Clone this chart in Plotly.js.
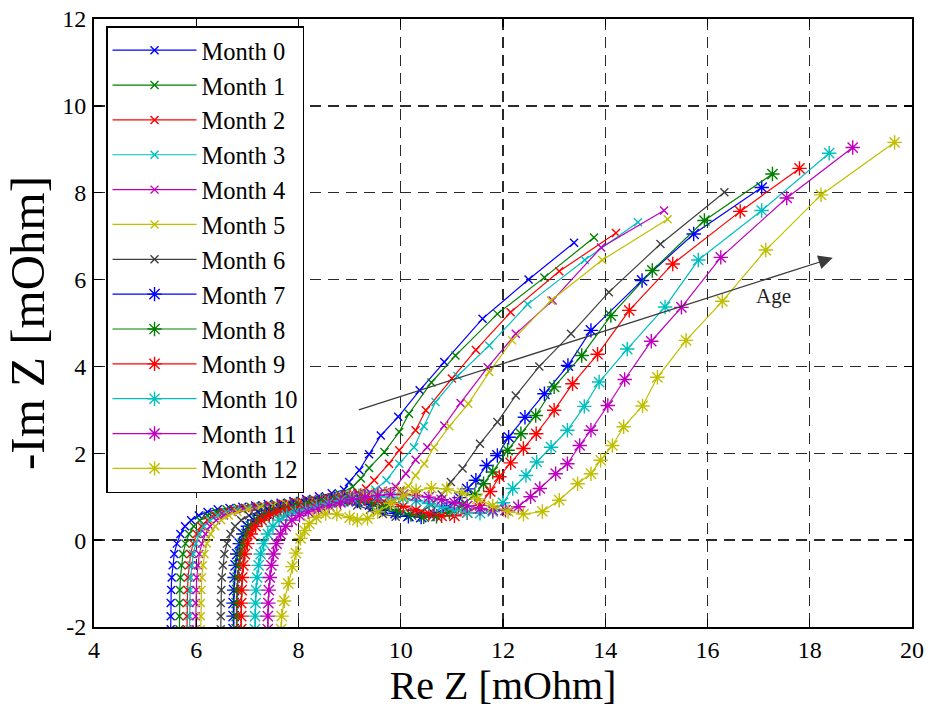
<!DOCTYPE html>
<html>
<head>
<meta charset="utf-8">
<script src="https://cdn.plot.ly/plotly-3.0.1.min.js"></script>
<style>html,body{margin:0;padding:0;background:#fff;}#chart{width:932px;height:711px;}</style>
</head>
<body>
<div id="chart"></div>
<script>
const monthNames = ['Month 0','Month 1','Month 2','Month 3','Month 4','Month 5','Month 6','Month 7','Month 8','Month 9','Month 10','Month 11','Month 12'];

const m0x = [5.50,5.50,5.50,5.51,5.52,5.54,5.57,5.62,5.69,5.78,5.90,6.05,6.22,6.42,6.65,6.90,7.15,7.40,7.65,7.90,8.15,8.40,8.65,8.89,8.99,9.19,9.38,9.61,9.95,10.37,10.85,11.60,12.50,13.39];
const m0y = [-2.05,-1.75,-1.45,-1.15,-0.86,-0.58,-0.32,-0.08,0.14,0.32,0.46,0.57,0.65,0.71,0.74,0.77,0.80,0.83,0.86,0.90,0.95,1.01,1.08,1.16,1.34,1.61,1.98,2.41,2.84,3.45,4.10,5.10,6.00,6.85];

const m1x = [5.67,5.67,5.67,5.68,5.69,5.71,5.74,5.79,5.86,5.95,6.07,6.22,6.39,6.59,6.82,7.06,7.30,7.55,7.80,8.05,8.30,8.55,8.80,9.06,9.22,9.38,9.68,9.97,10.16,10.60,11.07,11.89,12.81,13.78];
const m1y = [-2.05,-1.75,-1.45,-1.15,-0.86,-0.58,-0.32,-0.08,0.14,0.32,0.46,0.57,0.65,0.71,0.74,0.77,0.80,0.83,0.86,0.90,0.94,0.99,1.06,1.23,1.42,1.66,2.03,2.49,2.91,3.63,4.25,5.21,6.05,6.97];

const m2x = [5.82,5.82,5.82,5.83,5.84,5.86,5.89,5.94,6.01,6.10,6.22,6.37,6.54,6.74,6.96,7.20,7.45,7.70,7.95,8.20,8.45,8.70,8.95,9.15,9.32,9.48,9.77,9.97,10.29,10.49,11.00,11.47,12.15,13.10,14.21];
const m2y = [-2.05,-1.75,-1.45,-1.15,-0.86,-0.58,-0.32,-0.08,0.14,0.32,0.46,0.57,0.65,0.71,0.74,0.77,0.80,0.83,0.87,0.91,0.95,1.00,1.05,1.10,1.19,1.38,1.76,2.07,2.53,2.99,3.72,4.38,5.25,6.19,7.07];

const m3x = [5.87,5.87,5.87,5.88,5.89,5.91,5.94,5.99,6.06,6.15,6.27,6.42,6.59,6.79,7.00,7.25,7.50,7.75,8.00,8.25,8.50,8.75,9.00,9.25,9.50,9.72,9.97,10.26,10.45,10.68,11.11,11.73,12.48,13.60,14.64];
const m3y = [-2.05,-1.75,-1.45,-1.15,-0.86,-0.58,-0.32,-0.08,0.14,0.32,0.46,0.57,0.65,0.71,0.74,0.77,0.80,0.84,0.88,0.92,0.96,1.00,1.04,1.09,1.16,1.38,1.76,2.14,2.62,3.18,3.78,4.48,5.43,6.45,7.32];

const m4x = [5.99,5.99,5.99,6.00,6.01,6.03,6.06,6.11,6.18,6.27,6.39,6.54,6.71,6.91,7.15,7.40,7.65,7.90,8.15,8.40,8.65,8.90,9.15,9.40,9.65,9.90,10.10,10.29,10.52,10.85,11.17,11.70,12.25,12.97,13.92,15.15];
const m4y = [-2.05,-1.75,-1.45,-1.15,-0.86,-0.58,-0.32,-0.08,0.14,0.32,0.46,0.57,0.65,0.71,0.75,0.79,0.83,0.87,0.91,0.95,0.99,1.03,1.07,1.10,1.14,1.23,1.53,1.85,2.14,2.64,3.16,3.98,4.75,5.52,6.74,7.59];

const m5x = [6.09,6.09,6.09,6.10,6.11,6.13,6.16,6.21,6.28,6.37,6.49,6.64,6.81,7.01,7.25,7.50,7.75,8.00,8.25,8.50,8.75,9.00,9.25,9.50,9.75,10.00,10.15,10.29,10.46,10.65,10.95,11.32,11.73,12.18,12.94,13.94,15.22];
const m5y = [-2.05,-1.75,-1.45,-1.15,-0.86,-0.58,-0.32,-0.08,0.14,0.32,0.46,0.57,0.65,0.71,0.75,0.79,0.83,0.87,0.91,0.95,0.99,1.03,1.07,1.10,1.13,1.16,1.24,1.49,1.76,2.14,2.62,3.14,3.87,4.60,5.52,6.45,7.39];

const m6x = [6.48,6.48,6.48,6.49,6.50,6.52,6.55,6.60,6.67,6.76,6.88,7.03,7.20,7.40,7.65,7.90,8.15,8.40,8.65,8.90,9.15,9.40,9.65,9.90,10.15,10.40,10.60,10.80,10.98,11.21,11.55,11.89,12.25,12.71,13.33,14.07,15.08,16.33];
const m6y = [-2.05,-1.75,-1.45,-1.15,-0.86,-0.58,-0.32,-0.08,0.14,0.32,0.46,0.57,0.65,0.71,0.76,0.81,0.85,0.88,0.89,0.87,0.80,0.70,0.60,0.54,0.55,0.65,0.82,1.05,1.34,1.65,2.22,2.72,3.33,4.00,4.75,5.71,6.82,8.01];

const m7x = [6.73,6.73,6.73,6.74,6.75,6.77,6.80,6.85,6.92,7.01,7.13,7.28,7.45,7.65,7.90,8.15,8.40,8.65,8.90,9.15,9.40,9.65,9.90,10.15,10.40,10.65,10.90,11.15,11.30,11.47,11.68,11.89,12.11,12.43,12.81,13.27,13.72,14.72,15.73,17.06];
const m7y = [-2.05,-1.75,-1.45,-1.15,-0.86,-0.58,-0.32,-0.08,0.14,0.32,0.46,0.57,0.65,0.71,0.77,0.83,0.88,0.92,0.93,0.90,0.82,0.72,0.62,0.55,0.53,0.60,0.75,0.98,1.18,1.38,1.72,1.95,2.37,2.83,3.37,4.02,4.83,5.98,7.05,8.12];

const m8x = [6.79,6.79,6.79,6.80,6.81,6.83,6.86,6.91,6.98,7.07,7.19,7.34,7.51,7.71,7.95,8.20,8.45,8.70,8.95,9.20,9.45,9.70,9.95,10.20,10.45,10.70,10.95,11.20,11.45,11.62,11.80,12.09,12.35,12.64,13.00,13.54,14.11,14.92,15.94,17.27];
const m8y = [-2.05,-1.75,-1.45,-1.15,-0.86,-0.58,-0.32,-0.08,0.14,0.32,0.46,0.57,0.65,0.71,0.77,0.83,0.88,0.92,0.94,0.92,0.86,0.77,0.67,0.59,0.54,0.55,0.64,0.80,1.05,1.30,1.57,2.07,2.45,2.87,3.53,4.25,5.17,6.21,7.36,8.43];

const m9x = [6.88,6.88,6.88,6.89,6.90,6.92,6.95,7.00,7.07,7.16,7.28,7.43,7.60,7.80,8.05,8.30,8.55,8.80,9.05,9.30,9.55,9.80,10.05,10.30,10.55,10.80,11.05,11.30,11.55,11.75,11.93,12.15,12.40,12.65,13.00,13.36,13.85,14.47,15.32,16.64,17.80];
const m9y = [-2.05,-1.75,-1.45,-1.15,-0.86,-0.58,-0.32,-0.08,0.14,0.32,0.46,0.57,0.65,0.71,0.77,0.83,0.88,0.92,0.95,0.95,0.92,0.86,0.78,0.69,0.61,0.56,0.56,0.63,0.80,1.12,1.46,1.78,2.11,2.45,2.99,3.60,4.28,5.29,6.36,7.57,8.56];

const m10x = [7.15,7.15,7.16,7.17,7.19,7.22,7.26,7.32,7.40,7.50,7.62,7.77,7.94,8.14,8.35,8.58,8.82,9.06,9.30,9.55,9.80,10.05,10.30,10.55,10.80,11.05,11.30,11.55,11.80,12.00,12.19,12.45,12.66,12.94,13.26,13.59,13.88,14.43,15.17,15.82,17.06,18.38];
const m10y = [-2.05,-1.75,-1.45,-1.15,-0.86,-0.58,-0.32,-0.08,0.14,0.32,0.46,0.57,0.65,0.71,0.78,0.85,0.91,0.96,0.99,1.00,0.99,0.96,0.91,0.84,0.77,0.70,0.64,0.62,0.66,0.86,1.19,1.49,1.80,2.14,2.53,3.08,3.64,4.40,5.37,6.45,7.59,8.91];

const m11x = [7.40,7.40,7.41,7.42,7.44,7.47,7.51,7.57,7.65,7.75,7.87,8.02,8.19,8.39,8.60,8.82,9.05,9.30,9.55,9.80,10.05,10.30,10.55,10.80,11.05,11.30,11.55,11.80,12.05,12.30,12.54,12.72,13.03,13.26,13.50,13.72,14.05,14.38,14.90,15.49,16.26,17.55,18.84];
const m11y = [-2.05,-1.75,-1.45,-1.15,-0.86,-0.58,-0.32,-0.08,0.14,0.32,0.46,0.57,0.65,0.71,0.79,0.87,0.94,0.99,1.03,1.05,1.05,1.03,0.99,0.93,0.86,0.79,0.73,0.69,0.69,0.77,1.00,1.19,1.53,1.76,2.18,2.53,3.10,3.70,4.58,5.36,6.51,7.88,9.04];

const m12x = [7.66,7.67,7.72,7.80,7.88,7.95,8.04,8.12,8.21,8.35,8.53,8.75,9.00,9.15,9.35,9.55,9.80,10.05,10.30,10.60,10.90,11.20,11.50,11.80,12.10,12.40,12.77,13.10,13.46,13.72,13.91,14.14,14.36,14.73,15.02,15.58,16.29,17.14,18.22,19.66];
const m12y = [-2.05,-1.75,-1.40,-1.00,-0.61,-0.30,0.04,0.22,0.38,0.52,0.61,0.60,0.52,0.46,0.50,0.65,0.85,1.02,1.14,1.20,1.18,1.09,0.95,0.79,0.66,0.60,0.66,0.92,1.30,1.53,1.84,2.18,2.61,3.09,3.75,4.60,5.50,6.68,7.95,9.16];

const xTickVals = [4,6,8,10,12,14,16,18,20];
const xTickText = ['4','6','8','10','12','14','16','18','20'];
const yTickVals = [-2,0,2,4,6,8,10,12];
const yTickText = ['-2','0','2','4','6','8','10','12'];

const arrowTail = [9.15, 2.99];
const arrowHead = [18.45, 6.50];
const ageLabelPos = [17.3, 5.63];

const seriesX = [m0x,m1x,m2x,m3x,m4x,m5x,m6x,m7x,m8x,m9x,m10x,m11x,m12x];
const seriesY = [m0y,m1y,m2y,m3y,m4y,m5y,m6y,m7y,m8y,m9y,m10y,m11y,m12y];
const colors = ['#0000FF','#008000','#FF0000','#00BFBF','#BF00BF','#BFBF00','#404040','#0000FF','#008000','#FF0000','#00BFBF','#BF00BF','#BFBF00'];

const serif = "'Liberation Serif', 'Times New Roman', serif";

const traces = monthNames.map((name, i) => {
  const star = i >= 7;
  return {
    type: 'scatter',
    mode: 'lines+markers',
    name: name,
    x: seriesX[i],
    y: seriesY[i],
    line: {color: colors[i], width: 1.2},
    marker: {
      symbol: star ? 'asterisk-open' : 'x-thin-open',
      size: star ? 12 : 8,
      color: colors[i],
      line: {color: colors[i], width: 1.4}
    }
  };
});

const axisCommon = {
  showline: true, linecolor: '#000', linewidth: 2, mirror: 'ticks',
  ticks: 'inside', ticklen: 8, tickwidth: 1.3, tickcolor: '#000',
  showgrid: true, gridcolor: '#2a2a2a', gridwidth: 1.3, griddash: '11px,7px',
  zeroline: false, tickmode: 'array',
  tickfont: {family: serif, size: 24, color: '#000'}
};

const layout = {
  width: 932, height: 711,
  margin: {l: 94, r: 20, t: 19, b: 84},
  paper_bgcolor: '#fff', plot_bgcolor: '#fff',
  font: {family: serif, color: '#000'},
  xaxis: Object.assign({}, axisCommon, {
    range: [4, 20], tickvals: xTickVals, ticktext: xTickText,
    ticklabelstandoff: 0,
    title: {text: 'Re Z [mOhm]', font: {family: serif, size: 40, color: '#000'}, standoff: 4}
  }),
  yaxis: Object.assign({}, axisCommon, {
    range: [-2, 12], tickvals: yTickVals, ticktext: yTickText,
    ticklabelstandoff: 1,
    title: {text: '-Im Z [mOhm]', font: {family: serif, size: 49, color: '#000'}, standoff: 5}
  }),
  showlegend: true,
  legend: {
    x: 0.0147, y: 0.988, xanchor: 'left', yanchor: 'top',
    bgcolor: '#fff', bordercolor: '#000', borderwidth: 1.5,
    font: {family: serif, size: 24.5, color: '#000'},
    itemwidth: 84, traceorder: 'normal'
  },
  annotations: [
    {
      x: arrowHead[0], y: arrowHead[1], ax: arrowTail[0], ay: arrowTail[1],
      xref: 'x', yref: 'y', axref: 'x', ayref: 'y',
      text: '', showarrow: true, arrowhead: 2, arrowsize: 2.2, arrowwidth: 1.3, arrowcolor: '#3a3a3a'
    },
    {
      x: ageLabelPos[0], y: ageLabelPos[1], xref: 'x', yref: 'y',
      text: 'Age', showarrow: false, font: {family: serif, size: 21, color: '#222'}
    }
  ]
};

Plotly.newPlot('chart', traces, layout, {displayModeBar: false, staticPlot: true});
</script>
</body>
</html>
